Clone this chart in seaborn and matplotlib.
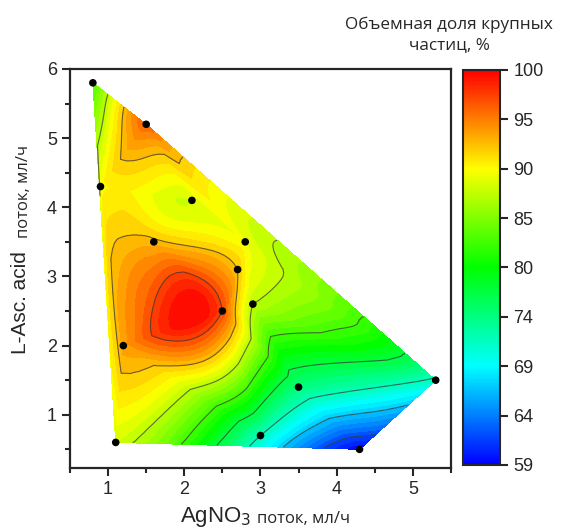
import numpy as np
import pandas as pd
import seaborn as sns
import matplotlib.pyplot as plt
import matplotlib.tri as mtri
from matplotlib.colors import LinearSegmentedColormap, Normalize
from matplotlib.cm import ScalarMappable
from matplotlib.ticker import MultipleLocator

# measured points: AgNO3 flow, L-Asc. acid flow, volume share of large particles
agno3 = [0.8, 1.5, 0.9, 2.1, 1.6, 2.8, 2.7, 2.9, 2.5, 1.2, 3.5, 5.3, 3.0, 1.1, 4.3]
asc = [5.8, 5.2, 4.3, 4.1, 3.5, 3.5, 3.1, 2.6, 2.5, 2.0, 1.4, 1.5, 0.7, 0.6, 0.5]
share = [82.5, 96.0, 89.5, 88.0, 92.5, 89.0, 92.0, 87.0, 97.0, 93.5, 74.5, 71.5, 72.0, 88.0, 59.0]

cbar_ticks = np.linspace(59, 100, 9)
cbar_labels = ["59", "64", "69", "74", "80", "85", "90", "95", "100"]
line_levels = [62, 67, 72, 77, 82, 87, 92, 97]

df = pd.DataFrame({"x": agno3, "y": asc, "z": share})

sns.set_style("ticks")
plt.rcParams["font.family"] = ["Liberation Sans", "DejaVu Sans"]

cmap = LinearSegmentedColormap.from_list(
    "origin_rainbow", ["#0000ff", "#00ffff", "#00ff00", "#ffff00", "#ff0000"])
cmap.set_under("#0000ff")
cmap.set_over("#ff0000")

fig = plt.figure(figsize=(5.61, 5.29), dpi=100)
ax = fig.add_axes([0.1248, 0.1153, 0.679, 0.7543])

# smooth surface: mix of linear and cubic interpolation on a refined mesh
tri = mtri.Triangulation(df["x"], df["y"])
refiner = mtri.UniformTriRefiner(tri)
lin = mtri.LinearTriInterpolator(tri, df["z"])
cub = mtri.CubicTriInterpolator(tri, df["z"], kind="min_E")
tri_f, z_lin = refiner.refine_field(df["z"], triinterpolator=lin, subdiv=4)
_, z_cub = refiner.refine_field(df["z"], triinterpolator=cub, subdiv=4)
z_f = 0.5 * z_lin + 0.5 * z_cub

fill_levels = np.linspace(59, 100, 42)
ax.tricontourf(tri_f, z_f, levels=fill_levels, cmap=cmap, extend="both")
ax.tricontour(tri_f, z_f, levels=line_levels, colors="#3a3a3a", linewidths=0.8, alpha=0.75)

sns.scatterplot(data=df, x="x", y="y", color="black", s=30, edgecolor="none",
                ax=ax, zorder=5, legend=False)

ax.set_xlim(0.5, 5.5)
ax.set_ylim(0.23, 6)
ax.set_xticks([1, 2, 3, 4, 5])
ax.set_yticks([1, 2, 3, 4, 5, 6])
ax.xaxis.set_minor_locator(MultipleLocator(0.5))
ax.yaxis.set_minor_locator(MultipleLocator(0.5))
ax.tick_params(which="major", direction="out", length=6, width=1.5, labelsize=13)
ax.tick_params(which="minor", direction="out", length=3.5, width=1.5)
for sp in ax.spines.values():
    sp.set_visible(True)
    sp.set_linewidth(1.6)
ax.set_xlabel("")
ax.set_ylabel("")

fig.text(0.448, 0.022, "AgNO$_3$", fontsize=16, ha="right", va="center")
fig.text(0.458, 0.018, "поток, мл/ч", fontsize=12, ha="left", va="center",
         family=["Open Sans", "DejaVu Sans"])
fig.text(0.037, 1 - 303 / 529, "L-Asc. acid", fontsize=15, rotation=90,
         ha="center", va="center")
fig.text(0.043, 1 - 192 / 529, "поток, мл/ч", fontsize=12, rotation=90,
         ha="center", va="center", family=["Open Sans", "DejaVu Sans"])

cax = fig.add_axes([0.8253, 0.121, 0.066, 0.7467])
sm = ScalarMappable(norm=Normalize(59, 100), cmap=cmap)
cb = fig.colorbar(sm, cax=cax)
cb.set_ticks(cbar_ticks)
cb.set_ticklabels(cbar_labels)
cb.outline.set_linewidth(1.5)
cax.tick_params(direction="out", length=6, width=1.5, labelsize=13)
fig.text(0.801, 1 - 35 / 529, "Объемная доля крупных\nчастиц, %", fontsize=12.3,
         ha="center", va="center", linespacing=1.4,
         family=["Open Sans", "DejaVu Sans"])

fig.savefig("out.png", dpi=100)
